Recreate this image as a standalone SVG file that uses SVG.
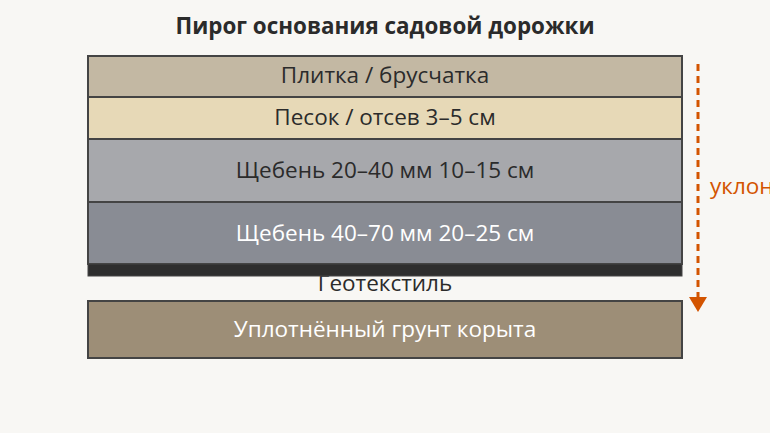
<svg xmlns="http://www.w3.org/2000/svg" width="770" height="433" viewBox="0 0 770 433">
<defs>
<style>
.t{font-family:"Open Sans","Noto Sans",sans-serif;font-size:22.5px;text-anchor:middle}
.d{fill:#2b2b2b}
.w{fill:#ffffff}
.l{stroke:#444444;stroke-width:2}
</style>
</defs>
<rect x="0" y="0" width="770" height="433" fill="#f8f7f4"/>
<text x="385" y="34" class="t" style="font-weight:bold;font-size:22.4px" fill="#2b2b2b">Пирог основания садовой дорожки</text>
<g id="geotextile-label"><text x="385" y="291" class="t d">Геотекстиль</text></g>
<g id="layer-tile"><rect x="88" y="56" width="594" height="41" fill="#c3b8a3" class="l"/><text x="385" y="83" class="t d">Плитка / брусчатка</text></g>
<g id="layer-sand"><rect x="88" y="97" width="594" height="42" fill="#e7d9b7" class="l"/><text x="385" y="125" class="t d">Песок / отсев 3–5 см</text></g>
<g id="layer-gravel1"><rect x="88" y="139" width="594" height="63" fill="#a7a8ac" class="l"/><text x="385" y="178" class="t d">Щебень 20–40 мм 10–15 см</text></g>
<g id="layer-gravel2"><rect x="88" y="202" width="594" height="62" fill="#898c94" class="l"/><text x="385" y="241" class="t w">Щебень 40–70 мм 20–25 см</text></g>
<g id="geotextile"><rect x="88" y="264" width="594" height="12" fill="#2e2e2e" stroke="#444444" stroke-width="1"/></g>
<g id="soil"><rect x="88" y="301" width="594" height="57" fill="#9d8e77" class="l"/><text x="385" y="337" class="t w">Уплотнённый грунт корыта</text></g>
<g id="connectors">
<line x1="698" y1="64" x2="698" y2="297" stroke="#d35400" stroke-width="3" stroke-dasharray="7,5"/>
<polygon points="689,297 707,297 698,312" fill="#d35400"/>
</g>
<g id="slope-label"><text x="710" y="194" font-family="Open Sans, Noto Sans, sans-serif" font-size="22.5" fill="#d35400">уклон</text></g>
</svg>
